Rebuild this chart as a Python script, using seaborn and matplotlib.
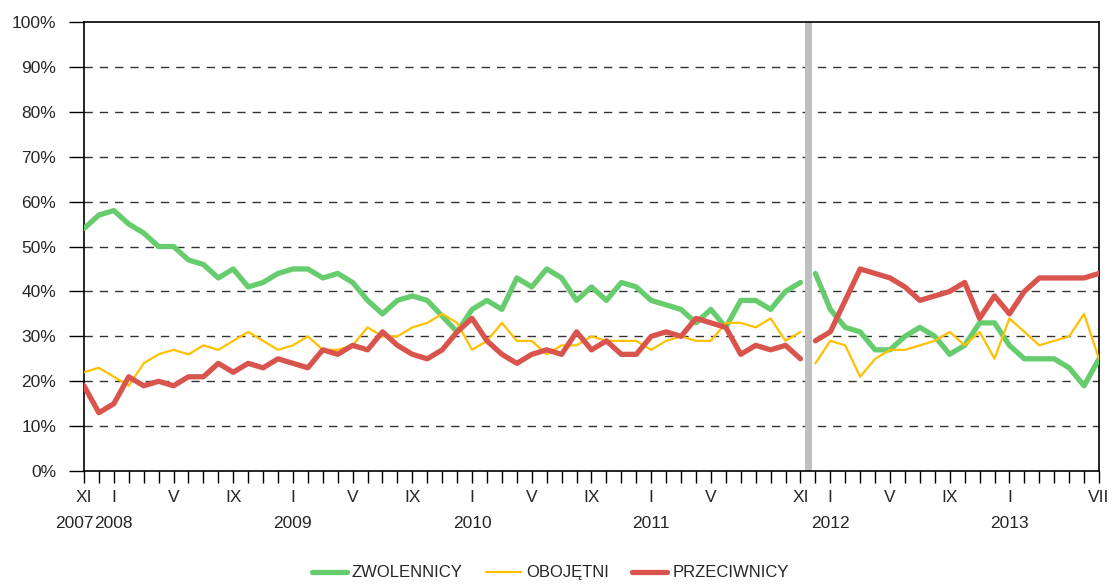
import seaborn as sns
import matplotlib.pyplot as plt
import pandas as pd
import numpy as np

# Dane miesięczne: XI 2007 - XI 2011 (segment 1), XII 2011 - VII 2013 (segment 2)
zwolennicy_1 = [54, 57, 58, 55, 53, 50, 50, 47, 46, 43, 45, 41, 42, 44, 45, 45, 43, 44, 42, 38,
                35, 38, 39, 38, 34.5, 31, 36, 38, 36, 43, 41, 45, 43, 38, 41, 38, 42, 41, 38, 37,
                36, 33, 36, 32, 38, 38, 36, 40, 42]
obojetni_1 = [22, 23, 21, 19, 24, 26, 27, 26, 28, 27, 29, 31, 29, 27, 28, 30, 27, 27, 28, 32,
              30, 30, 32, 33, 35, 33, 27, 29, 33, 29, 29, 26, 28, 28, 30, 29, 29, 29, 27, 29,
              30, 29, 29, 33, 33, 32, 34, 29, 31]
przeciwnicy_1 = [19, 13, 15, 21, 19, 20, 19, 21, 21, 24, 22, 24, 23, 25, 24, 23, 27, 26, 28, 27,
                 31, 28, 26, 25, 27, 31, 34, 29, 26, 24, 26, 27, 26, 31, 27, 29, 26, 26, 30, 31,
                 30, 34, 33, 32, 26, 28, 27, 28, 25]

zwolennicy_2 = [44, 36, 32, 31, 27, 27, 30, 32, 30, 26, 28, 33, 33, 28, 25, 25, 25, 23, 19, 25]
obojetni_2 = [24, 29, 28, 21, 25, 27, 27, 28, 29, 31, 28, 31, 25, 34, 31, 28, 29, 30, 35, 25]
przeciwnicy_2 = [29, 31, 38, 45, 44, 43, 41, 38, 39, 40, 42, 34, 39, 35, 40, 43, 43, 43, 43, 44]

tick_labels = {0: 'XI', 2: 'I', 6: 'V', 10: 'IX', 14: 'I', 18: 'V', 22: 'IX', 26: 'I', 30: 'V',
               34: 'IX', 38: 'I', 42: 'V', 48: 'XI', 50: 'I', 54: 'V', 58: 'IX', 62: 'I', 68: 'VII'}
year_labels = {0: '2007', 2: '2008', 14: '2009', 26: '2010', 38: '2011', 50: '2012', 62: '2013'}

n1 = len(zwolennicy_1)
n2 = len(zwolennicy_2)
x1 = np.arange(n1)
x2 = np.arange(n1, n1 + n2)

rows = []
for name, s1, s2 in [('ZWOLENNICY', zwolennicy_1, zwolennicy_2),
                     ('OBOJĘTNI', obojetni_1, obojetni_2),
                     ('PRZECIWNICY', przeciwnicy_1, przeciwnicy_2)]:
    for x, v in zip(x1, s1):
        rows.append((name, 1, x, v))
    for x, v in zip(x2, s2):
        rows.append((name, 2, x, v))
dane = pd.DataFrame(rows, columns=['seria', 'segment', 'miesiac', 'proc'])

kolory = {'ZWOLENNICY': '#66CC6E', 'OBOJĘTNI': '#FFC000', 'PRZECIWNICY': '#D9544C'}
grubosci = {'ZWOLENNICY': 3.8, 'OBOJĘTNI': 1.6, 'PRZECIWNICY': 3.8}

sns.set_style('white')
plt.rcParams['font.family'] = ['Liberation Sans', 'DejaVu Sans']

fig = plt.figure(figsize=(11.12, 5.86), dpi=100)
ax = fig.add_axes([0.0755, 0.196, 0.9128, 0.7667])

# siatka
for g in range(10, 100, 10):
    ax.axhline(g, color='#333333', lw=1.0, linestyle=(0, (6, 5)), zorder=1)

# przerwa w serii
ax.axvline(n1 - 0.5, color='#BFBFBF', lw=5, zorder=2)

for seria in ['ZWOLENNICY', 'OBOJĘTNI', 'PRZECIWNICY']:
    for seg in [1, 2]:
        d = dane[(dane.seria == seria) & (dane.segment == seg)]
        sns.lineplot(data=d, x='miesiac', y='proc', ax=ax, color=kolory[seria],
                     linewidth=grubosci[seria], legend=False, zorder=3,
                     solid_capstyle='round')

ax.set_xlim(0, n1 + n2 - 1)
ax.set_ylim(0, 100)
ax.set_yticks(range(0, 101, 10))
ax.set_yticklabels([f'{v}%' for v in range(0, 101, 10)], fontsize=12.5)
ax.set_xticks(np.arange(n1 + n2))
ax.set_xticklabels([tick_labels.get(i, '') for i in range(n1 + n2)], fontsize=12.5)
ax.tick_params(axis='y', direction='out', length=11, width=1, color='black', pad=9,
               left=True)
ax.tick_params(axis='x', direction='out', length=8.5, width=1, color='black', pad=5,
               bottom=True)
ax.set_xlabel('')
ax.set_ylabel('')

for sp in ax.spines.values():
    sp.set_color('black')
    sp.set_linewidth(1.2)
    sp.set_visible(True)

for pos, txt in year_labels.items():
    dx = -10 if pos == 0 else 0
    ax.annotate(txt, xy=(pos, 0), xycoords=('data', 'axes fraction'),
                xytext=(dx, -52), textcoords='offset pixels',
                ha='center', va='center', fontsize=12.5)

handles = [plt.Line2D([], [], color=kolory[s], lw=grubosci[s], solid_capstyle='round')
           for s in kolory]
fig.legend(handles, list(kolory), loc='lower center', bbox_to_anchor=(0.495, -0.016),
           ncol=3, frameon=False, fontsize=12, handlelength=2.1, handletextpad=0.3,
           columnspacing=1.4)

fig.savefig('out.png', dpi=100)
